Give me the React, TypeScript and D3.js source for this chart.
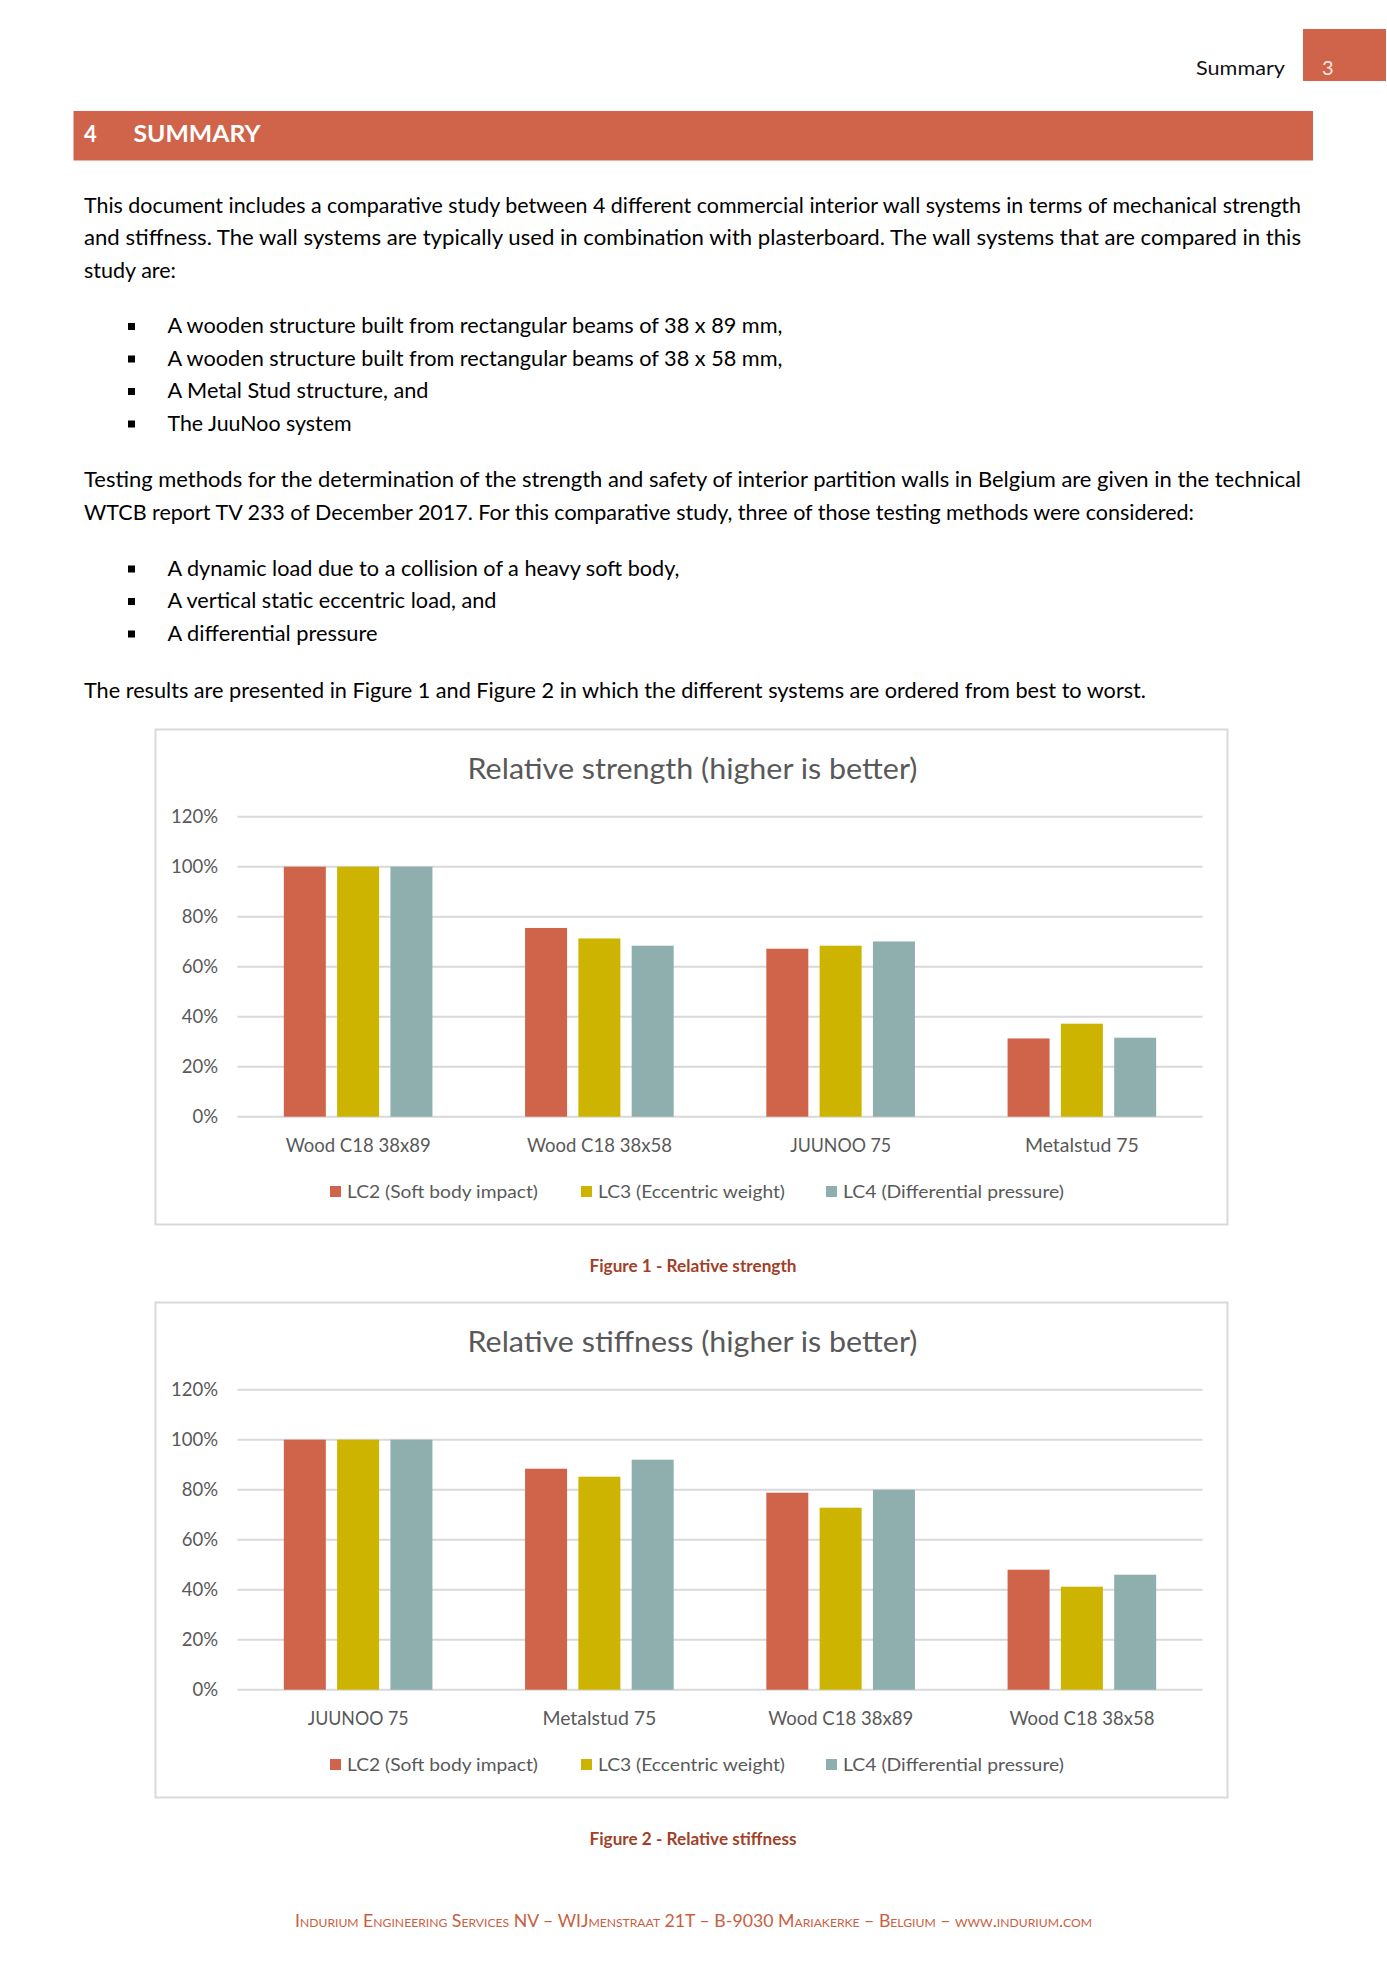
import React from 'react';
import * as d3 from 'd3';

// ---------- data ----------
const seriesNames = ['LC2 (Soft body impact)', 'LC3 (Eccentric weight)', 'LC4 (Differential pressure)'];
const seriesColors = ['#d0644a', '#ccb400', '#8faeae'];

const strengthCategories = ['Wood C18 38x89', 'Wood C18 38x58', 'JUUNOO 75', 'Metalstud 75'];
const strengthLC2 = [100, 75.5, 67.2, 31.3];
const strengthLC3 = [100, 71.3, 68.4, 37.2];
const strengthLC4 = [100, 68.4, 70.1, 31.6];

const stiffnessCategories = ['JUUNOO 75', 'Metalstud 75', 'Wood C18 38x89', 'Wood C18 38x58'];
const stiffnessLC2 = [100, 88.4, 78.8, 48.0];
const stiffnessLC3 = [100, 85.2, 72.8, 41.2];
const stiffnessLC4 = [100, 92.0, 80.0, 46.0];

const yTicks = [0, 20, 40, 60, 80, 100, 120];

// ---------- text ----------
const FONT = 'Lato, "Open Sans", sans-serif';

type Line = { text: string; x: number; y: number; w: number; bullet?: boolean };
const bodyLines: Line[] = [
  { text: 'This document includes a comparative study between 4 different commercial interior wall systems in terms of mechanical strength', x: 84, y: 212.5, w: 1217 },
  { text: 'and stiffness. The wall systems are typically used in combination with plasterboard. The wall systems that are compared in this', x: 84, y: 245, w: 1217 },
  { text: 'study are:', x: 84, y: 277.5, w: 92 },
  { text: 'A wooden structure built from rectangular beams of 38 x 89 mm,', x: 167.5, y: 333, w: 615, bullet: true },
  { text: 'A wooden structure built from rectangular beams of 38 x 58 mm,', x: 167.5, y: 365.5, w: 615, bullet: true },
  { text: 'A Metal Stud structure, and', x: 167.5, y: 398, w: 261, bullet: true },
  { text: 'The JuuNoo system', x: 167.5, y: 430.5, w: 184, bullet: true },
  { text: 'Testing methods for the determination of the strength and safety of interior partition walls in Belgium are given in the technical', x: 84, y: 487, w: 1217 },
  { text: 'WTCB report TV 233 of December 2017. For this comparative study, three of those testing methods were considered:', x: 84, y: 519.5, w: 1110 },
  { text: 'A dynamic load due to a collision of a heavy soft body,', x: 167.5, y: 575.5, w: 512, bullet: true },
  { text: 'A vertical static eccentric load, and', x: 167.5, y: 608, w: 329, bullet: true },
  { text: 'A differential pressure', x: 167.5, y: 640.5, w: 210, bullet: true },
  { text: 'The results are presented in Figure 1 and Figure 2 in which the different systems are ordered from best to worst.', x: 84, y: 697.5, w: 1062 },
];

const labelWidths: Record<string, number> = {
  'Wood C18 38x89': 145,
  'Wood C18 38x58': 145,
  'JUUNOO 75': 101,
  'Metalstud 75': 114,
};
const legendWidths = [191, 187, 221];
const legendX = [330, 581, 826];

const GRID = '#d9d9d9';
const AXIS_TEXT = '#595959';

interface ChartProps {
  dy: number;
  title: string;
  categories: string[];
  series: number[][];
  caption: string;
}

function BarChart({ dy, title, categories, series, caption }: ChartProps) {
  const plotLeft = 237.5;
  const plotRight = 1202.5;
  const y0 = 1116.7 + dy;
  const y120 = 816.7 + dy;

  const x = d3.scaleBand<string>().domain(categories).range([plotLeft, plotRight]).padding(0);
  const y = d3.scaleLinear().domain([0, 120]).range([y0, y120]);
  const clusterSpan = 148.6;
  const inner = d3
    .scaleBand<number>()
    .domain(d3.range(series.length))
    .range([0, clusterSpan])
    .paddingInner(0.212)
    .paddingOuter(0);

  return (
    <g>
      <rect x={155.5} y={729.5 + dy} width={1072} height={495} fill="#fff" stroke={GRID} strokeWidth={2} />
      <text x={692.5} y={779 + dy} textAnchor="middle" fontFamily={FONT} fontSize={28} fill={AXIS_TEXT}
        textLength={450} lengthAdjust="spacingAndGlyphs">{title}</text>
      {yTicks.map((t) => (
        <g key={t}>
          <line x1={plotLeft} x2={plotRight} y1={y(t)} y2={y(t)} stroke={GRID} strokeWidth={2} />
          <text x={218} y={y(t) + 6.5} textAnchor="end" fontFamily={FONT} fontSize={18.5} fill={AXIS_TEXT}>{`${t}%`}</text>
        </g>
      ))}
      {categories.map((c, ci) => {
        const bx = (x(c) as number) + (x.bandwidth() - clusterSpan) / 2;
        return (
          <g key={c}>
            {series.map((s, si) => (
              <rect key={si} x={bx + (inner(si) as number)} width={inner.bandwidth()} y={y(s[ci])}
                height={y(0) - y(s[ci])} fill={seriesColors[si]} />
            ))}
            <text x={(x(c) as number) + x.bandwidth() / 2} y={1152 + dy} textAnchor="middle" fontFamily={FONT}
              fontSize={19} fill={AXIS_TEXT} textLength={labelWidths[c]} lengthAdjust="spacingAndGlyphs">{c}</text>
          </g>
        );
      })}
      {seriesNames.map((n, i) => (
        <g key={n}>
          <rect x={legendX[i]} y={1186 + dy} width={11} height={11} fill={seriesColors[i]} />
          <text x={legendX[i] + 17} y={1198 + dy} fontFamily={FONT} fontSize={18} fill={AXIS_TEXT}
            textLength={legendWidths[i]} lengthAdjust="spacingAndGlyphs">{n}</text>
        </g>
      ))}
      <text x={693} y={1272 + dy} textAnchor="middle" fontFamily={FONT} fontSize={16.5} fontWeight={700}
        fill="#a23f28" textLength={207} lengthAdjust="spacingAndGlyphs">{caption}</text>
    </g>
  );
}

export default function App() {
  return (
    <svg width={1387} height={1961} viewBox="0 0 1387 1961"
      style={{ position: 'absolute', left: 0, top: 0, background: '#fff' }}>
      <rect x={0} y={0} width={1387} height={1961} fill="#fff" />
      {/* page header */}
      <rect x={1303} y={29} width={83} height={52} fill="#d0644a" />
      <text x={1322} y={75} fontFamily={FONT} fontSize={20} fill="#fbe9e3">3</text>
      <text x={1285} y={75} textAnchor="end" fontFamily={FONT} fontSize={20} fill="#111"
        textLength={89} lengthAdjust="spacingAndGlyphs">Summary</text>

      {/* section bar */}
      <rect x={73.5} y={111} width={1239.5} height={49.5} fill="#d0644a" />
      <text x={84} y={141.5} fontFamily={FONT} fontSize={22} fontWeight={700} fill="#fff">4</text>
      <text x={133.5} y={141.5} fontFamily={FONT} fontSize={22} fontWeight={700} fill="#fff"
        textLength={127} lengthAdjust="spacingAndGlyphs">SUMMARY</text>

      {/* body text */}
      {bodyLines.map((l, i) => (
        <g key={i}>
          {l.bullet && <rect x={128} y={l.y - 10} width={7} height={7} fill="#000" />}
          <text x={l.x} y={l.y} fontFamily={FONT} fontSize={21} fill="#000"
            textLength={l.w} lengthAdjust="spacingAndGlyphs">{l.text}</text>
        </g>
      ))}

      <BarChart dy={0} title="Relative strength (higher is better)" categories={strengthCategories}
        series={[strengthLC2, strengthLC3, strengthLC4]} caption="Figure 1 - Relative strength" />
      <BarChart dy={573} title="Relative stiffness (higher is better)" categories={stiffnessCategories}
        series={[stiffnessLC2, stiffnessLC3, stiffnessLC4]} caption="Figure 2 - Relative stiffness" />

      {/* footer */}
      <text x={693.5} y={1927} textAnchor="middle" fontFamily={FONT} fontSize={17.5} fill="#c8603f"
        style={{ fontVariant: 'small-caps' }} textLength={797} lengthAdjust="spacingAndGlyphs">
        Indurium Engineering Services NV – WIJmenstraat 21T – B-9030 Mariakerke – Belgium – www.indurium.com
      </text>
    </svg>
  );
}
